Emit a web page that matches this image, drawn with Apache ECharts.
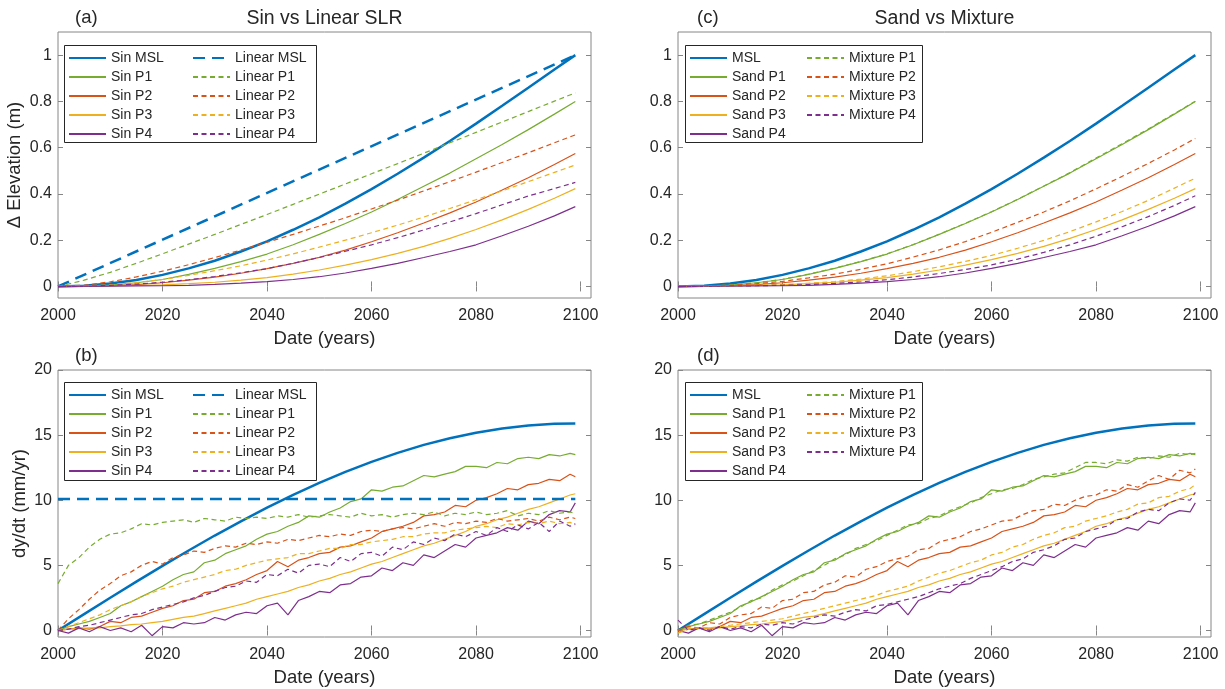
<!DOCTYPE html>
<html>
<head>
<meta charset="utf-8">
<script src="https://cdn.jsdelivr.net/npm/echarts@6/dist/echarts.min.js"></script>
<style>
  html, body { margin: 0; padding: 0; background: #fff; }
  #main { width: 1225px; height: 689px; }
</style>
</head>
<body>
<div id="main"></div>
<script>
// x positions
const yrs5 = [2000, 2005, 2010, 2015, 2020, 2025, 2030, 2035, 2040, 2045, 2050,
  2055, 2060, 2065, 2070, 2075, 2080, 2085, 2090, 2095, 2099];
const yrs2 = [2000, 2002, 2004, 2006, 2008, 2010, 2012, 2014, 2016, 2018,
  2020, 2022, 2024, 2026, 2028, 2030, 2032, 2034, 2036, 2038,
  2040, 2042, 2044, 2046, 2048, 2050, 2052, 2054, 2056, 2058,
  2060, 2062, 2064, 2066, 2068, 2070, 2072, 2074, 2076, 2078,
  2080, 2082, 2084, 2086, 2088, 2090, 2092, 2094, 2096, 2098, 2099];
const yrsEnds = [2000, 2099];

// tick labels
const xTicks = [2000, 2020, 2040, 2060, 2080, 2100];
const elevTicks = [0, 0.2, 0.4, 0.6, 0.8, 1];
const rateTicks = [0, 5, 10, 15, 20];

// elevation (m), panels a and c  (on yrs5)
const mslElev   = [0, 0.003, 0.013, 0.028, 0.05, 0.078, 0.111, 0.151, 0.195, 0.245, 0.299, 0.358, 0.421, 0.487, 0.557, 0.629, 0.704, 0.781, 0.859, 0.938, 1.0];
const sinP1Elev = [0, 0.001, 0.006, 0.016, 0.03, 0.052, 0.078, 0.107, 0.14, 0.18, 0.225, 0.272, 0.322, 0.376, 0.433, 0.49, 0.552, 0.614, 0.678, 0.745, 0.80];
const sinP2Elev = [0, 0.001, 0.003, 0.008, 0.016, 0.027, 0.04, 0.057, 0.077, 0.1, 0.126, 0.157, 0.193, 0.232, 0.274, 0.318, 0.365, 0.417, 0.47, 0.527, 0.575];
const sinP3Elev = [0, 0.0005, 0.002, 0.004, 0.007, 0.012, 0.018, 0.027, 0.038, 0.053, 0.071, 0.092, 0.116, 0.143, 0.173, 0.208, 0.246, 0.288, 0.333, 0.381, 0.423];
const sinP4Elev = [0, 0, 0.001, 0.002, 0.003, 0.005, 0.009, 0.014, 0.021, 0.03, 0.042, 0.058, 0.078, 0.1, 0.125, 0.151, 0.18, 0.219, 0.26, 0.305, 0.345];
const linMslElev = [0, 1.0]; // on yrsEnds
const linP1Elev = [0, 0.027, 0.061, 0.1, 0.141, 0.183, 0.225, 0.268, 0.311, 0.355, 0.399, 0.443, 0.487, 0.531, 0.576, 0.621, 0.666, 0.711, 0.756, 0.801, 0.837];
const linP2Elev = [0, 0.005, 0.02, 0.041, 0.066, 0.094, 0.125, 0.157, 0.191, 0.225, 0.261, 0.297, 0.335, 0.373, 0.413, 0.453, 0.494, 0.536, 0.578, 0.621, 0.655];
const linP3Elev = [0, 0.002, 0.007, 0.017, 0.03, 0.048, 0.068, 0.089, 0.114, 0.141, 0.17, 0.2, 0.232, 0.265, 0.3, 0.337, 0.375, 0.413, 0.453, 0.493, 0.525];
const linP4Elev = [0, 0.001, 0.005, 0.01, 0.018, 0.029, 0.043, 0.059, 0.077, 0.1, 0.125, 0.152, 0.18, 0.211, 0.244, 0.279, 0.315, 0.353, 0.391, 0.423, 0.45];
const mixP1Elev = [0, 0.001, 0.006, 0.016, 0.031, 0.053, 0.079, 0.108, 0.141, 0.181, 0.226, 0.273, 0.323, 0.377, 0.434, 0.492, 0.555, 0.617, 0.681, 0.747, 0.801];
const mixP2Elev = [0, 0.001, 0.005, 0.012, 0.022, 0.037, 0.053, 0.074, 0.098, 0.127, 0.158, 0.194, 0.234, 0.277, 0.322, 0.37, 0.422, 0.476, 0.532, 0.59, 0.64];
const mixP3Elev = [0, 0.0005, 0.002, 0.005, 0.008, 0.014, 0.021, 0.032, 0.046, 0.064, 0.085, 0.108, 0.134, 0.165, 0.199, 0.237, 0.279, 0.324, 0.372, 0.425, 0.468];
const mixP4Elev = [0, 0.001, 0.002, 0.003, 0.005, 0.008, 0.013, 0.02, 0.029, 0.041, 0.056, 0.073, 0.093, 0.118, 0.147, 0.18, 0.217, 0.258, 0.302, 0.35, 0.392];

// rate dy/dt (mm/yr), panels b and d
const mslRate = [0, 1.26, 2.51, 3.75, 4.96, 6.14, 7.29, 8.38, 9.43, 10.41, 11.33, 12.18, 12.95, 13.64, 14.25, 14.76, 15.18, 15.51, 15.74, 15.87, 15.9]; // yrs5
const linMslRate = [10.1, 10.1]; // yrsEnds
// the rest on yrs2
const sinP1Rate = [0.0, 0.3, 0.5, 0.7, 1.0, 1.3, 1.9, 2.2, 2.6, 3.0,
  3.4, 3.9, 4.3, 4.5, 5.2, 5.4, 5.9, 6.2, 6.5, 7.0,
  7.4, 7.6, 8.0, 8.3, 8.8, 8.7, 9.1, 9.4, 9.9, 10.1,
  10.8, 10.7, 11.0, 11.1, 11.5, 11.9, 11.8, 12.0, 12.2, 12.6,
  12.6, 12.5, 12.9, 12.8, 13.2, 13.3, 13.2, 13.5, 13.4, 13.6, 13.5];
const sinP2Rate = [0.0, 0.1, 0.2, 0.1, 0.3, 0.7, 0.6, 1.0, 1.1, 1.4,
  1.7, 1.9, 2.3, 2.4, 2.9, 3.0, 3.4, 3.6, 3.9, 4.3,
  4.6, 5.3, 4.9, 5.4, 5.6, 5.9, 6.0, 6.4, 6.5, 6.8,
  7.1, 7.6, 7.8, 8.0, 8.3, 8.8, 8.9, 9.1, 9.6, 9.5,
  10.0, 10.2, 10.5, 10.9, 10.8, 11.2, 11.3, 11.6, 11.5, 12.0, 11.8];
const sinP3Rate = [0.0, 0.1, 0.15, 0.2, 0.2, 0.3, 0.35, 0.45, 0.5, 0.6,
  0.7, 0.85, 1.0, 1.1, 1.3, 1.5, 1.7, 1.9, 2.1, 2.4,
  2.6, 2.8, 3.0, 3.3, 3.5, 3.8, 4.0, 4.3, 4.5, 4.8,
  5.1, 5.3, 5.6, 5.9, 6.2, 6.5, 6.7, 7.0, 7.3, 7.6,
  8.0, 8.2, 8.5, 8.7, 9.0, 9.3, 9.5, 9.8, 10.1, 10.4, 10.5];
const sinP4Rate = [0.0, -0.2, 0.2, -0.1, 0.3, 0.0, 0.2, -0.1, 0.4, -0.4,
  0.3, 0.2, 0.6, 0.5, 0.6, 1.0, 0.8, 1.2, 1.4, 1.3,
  1.9, 2.1, 1.2, 2.3, 2.6, 3.0, 2.9, 3.5, 3.6, 4.1,
  4.2, 4.8, 4.6, 5.2, 5.0, 5.8, 5.6, 6.1, 6.6, 6.4,
  7.1, 7.3, 7.5, 7.9, 7.7, 8.4, 8.2, 8.9, 9.2, 9.1, 9.8];
const linP1Rate = [3.6, 5.0, 5.6, 6.4, 7.0, 7.4, 7.5, 7.8, 8.2, 8.1,
  8.3, 8.4, 8.5, 8.3, 8.6, 8.5, 8.4, 8.7, 8.6, 8.7,
  8.6, 8.8, 8.7, 8.9, 8.7, 8.8, 8.9, 8.8, 8.7, 9.0,
  8.8, 8.9, 8.7, 8.9, 9.0, 8.9, 9.1, 8.8, 9.0, 8.9,
  9.1, 8.9, 9.0, 9.2, 8.8, 9.0, 8.9, 9.2, 9.0, 9.1, 9.0];
const linP2Rate = [0.0, 0.9, 1.6, 2.4, 3.1, 3.6, 4.2, 4.5, 5.0, 5.3,
  5.1, 5.6, 5.8, 6.1, 6.0, 6.3, 6.5, 6.4, 6.7, 6.6,
  6.8, 6.7, 7.0, 6.9, 7.1, 7.3, 7.2, 7.4, 7.3, 7.6,
  7.7, 7.6, 7.8, 7.9, 7.8, 8.0, 8.2, 8.0, 8.3, 8.2,
  8.4, 8.3, 8.6, 8.4, 8.5, 8.6, 8.4, 8.7, 8.5, 8.7, 8.6];
const linP3Rate = [0.0, 0.3, 0.6, 0.9, 1.2, 1.6, 1.9, 2.2, 2.6, 2.9,
  3.2, 3.4, 3.7, 3.9, 4.1, 4.3, 4.6, 4.7, 5.0, 5.2,
  5.4, 5.5, 5.6, 5.9, 5.9, 6.1, 6.3, 6.3, 6.6, 6.6,
  6.8, 6.9, 7.0, 7.2, 7.2, 7.4, 7.5, 7.5, 7.7, 7.8,
  7.9, 8.0, 7.9, 8.2, 8.1, 8.3, 8.2, 8.4, 8.2, 8.3, 8.1];
const linP4Rate = [0.0, 0.1, 0.3, 0.4, 0.6, 0.8, 1.0, 1.2, 1.3, 1.6,
  1.8, 2.0, 2.2, 2.5, 2.7, 3.0, 3.3, 3.4, 3.8, 3.7,
  4.3, 4.2, 4.7, 4.4, 5.0, 5.1, 4.9, 5.6, 5.3, 5.9,
  6.0, 5.7, 6.4, 6.2, 6.8, 6.6, 7.1, 6.9, 7.4, 7.2,
  7.6, 7.3, 7.9, 7.6, 8.1, 7.8, 8.3, 7.6, 8.4, 8.0, 8.2];
const mixP1Rate = [0.0, 0.4, 0.5, 0.8, 1.1, 1.4, 1.8, 2.3, 2.5, 3.1,
  3.5, 3.8, 4.2, 4.6, 5.0, 5.5, 5.8, 6.3, 6.6, 6.9,
  7.3, 7.7, 8.1, 8.2, 8.6, 8.8, 9.2, 9.5, 9.8, 10.2,
  10.5, 10.8, 10.9, 11.2, 11.6, 11.8, 12.0, 12.1, 12.5, 12.9,
  12.9, 12.8, 13.1, 13.0, 13.3, 13.2, 13.4, 13.3, 13.6, 13.5, 13.6];
const mixP2Rate = [0.0, 0.3, 0.2, 0.6, 0.5, 1.0, 1.2, 1.3, 1.8, 1.7,
  2.3, 2.4, 2.9, 3.0, 3.5, 3.7, 4.2, 4.1, 4.7, 4.9,
  5.3, 5.5, 5.7, 6.2, 6.3, 6.8, 7.0, 7.2, 7.6, 7.8,
  8.1, 8.4, 8.5, 8.9, 9.2, 9.3, 9.7, 9.6, 10.0, 10.3,
  10.4, 10.8, 10.7, 11.2, 11.0, 11.5, 11.9, 11.6, 12.3, 12.1, 12.4];
const mixP3Rate = [-0.2, 0.1, 0.2, 0.2, 0.3, 0.4, 0.5, 0.6, 0.7, 0.8,
  0.9, 1.1, 1.3, 1.5, 1.7, 1.9, 2.1, 2.3, 2.5, 2.7,
  3.0, 3.2, 3.4, 3.8, 4.1, 4.4, 4.6, 4.9, 5.2, 5.4,
  5.8, 6.0, 6.4, 6.6, 7.0, 7.3, 7.5, 7.9, 8.0, 8.4,
  8.6, 8.8, 9.1, 9.3, 9.7, 9.8, 10.2, 10.3, 10.7, 10.9, 11.2];
const mixP4Rate = [0.8, 0.0, 0.2, 0.0, 0.3, 0.1, 0.3, 0.2, 0.5, 0.4,
  0.6, 0.5, 0.8, 1.0, 1.2, 1.1, 1.4, 1.6, 1.5, 1.9,
  2.0, 2.2, 2.4, 2.6, 2.9, 3.2, 3.4, 3.6, 4.0, 4.3,
  4.6, 4.9, 5.3, 5.5, 6.0, 6.2, 6.5, 7.0, 7.1, 7.6,
  7.8, 8.0, 8.5, 8.6, 9.1, 9.3, 9.2, 9.8, 10.1, 10.0, 10.6];

// styles
const FONT = '"Liberation Sans", Arial, Helvetica, sans-serif';
const TEXT = '#262626';
const AXIS = '#868686';
const BLUE = '#0072BD', GREEN = '#77AC30', RED = '#D95319', YELLOW = '#EDB120', PURPLE = '#7E2F8E';
const P_DASH = [5, 3.5];
const MSL_DASH = [12, 7];

function pair(xs, ys) {
    return xs.map((x, i) => [x, ys[i]]);
}

// grid order: a, c, b, d
const grids = [
    { left: 58, top: 32, width: 533, height: 266 },
    { left: 678, top: 32, width: 533, height: 266 },
    { left: 58, top: 370, width: 533, height: 267 },
    { left: 678, top: 370, width: 533, height: 267 }
].map(g => Object.assign(g, { show: true, borderColor: AXIS, borderWidth: 1, backgroundColor: '#fff' }));

let xAxis = [];
let yAxis = [];

function addAxes(g, yMin, yMax, yTicks, yName, yGap) {
    const tick = { inside: true, length: 5, lineStyle: { color: AXIS, width: 1 } };
    const xBase = { type: 'value', gridIndex: g, min: 2000, max: 2102, splitLine: { show: false }, axisLine: { show: false } };
    xAxis.push(Object.assign({}, xBase, {
        position: 'bottom',
        axisTick: Object.assign({ customValues: xTicks }, tick),
        axisLabel: { customValues: xTicks, formatter: v => String(v), margin: 10, fontSize: 16, color: TEXT, fontFamily: FONT },
        name: 'Date (years)', nameLocation: 'middle', nameGap: 31,
        nameTextStyle: { fontSize: 18.5, color: TEXT, fontFamily: FONT }
    }));
    xAxis.push(Object.assign({}, xBase, {
        position: 'top',
        axisTick: Object.assign({ customValues: xTicks }, tick),
        axisLabel: { show: false }
    }));
    const yBase = { type: 'value', gridIndex: g, min: yMin, max: yMax, splitLine: { show: false }, axisLine: { show: false } };
    yAxis.push(Object.assign({}, yBase, {
        position: 'left',
        axisTick: Object.assign({ customValues: yTicks }, tick),
        axisLabel: { customValues: yTicks, formatter: v => String(v), margin: 6, fontSize: 16, color: TEXT, fontFamily: FONT },
        name: yName, nameLocation: 'middle', nameGap: yGap,
        nameTextStyle: { fontSize: 18.5, color: TEXT, fontFamily: FONT }
    }));
    yAxis.push(Object.assign({}, yBase, {
        position: 'right',
        axisTick: Object.assign({ customValues: yTicks }, tick),
        axisLabel: { show: false }
    }));
}

addAxes(0, -0.05, 1.1, elevTicks, '\u0394 Elevation (m)', 34);
addAxes(1, -0.05, 1.1, elevTicks, '', 34);
addAxes(2, -0.5, 20, rateTicks, 'dy/dt (mm/yr)', 29);
addAxes(3, -0.5, 20, rateTicks, '', 29);

let series = [];

function line(g, name, xs, ys, color, width, dash) {
    series.push({
        type: 'line', name: name,
        xAxisIndex: g * 2, yAxisIndex: g * 2,
        data: pair(xs, ys),
        symbol: 'none', showSymbol: false,
        lineStyle: { color: color, width: width, type: dash || 'solid' },
        itemStyle: { color: color },
        emphasis: { disabled: true },
        animation: false
    });
}

// (a) Sin vs Linear SLR
line(0, 'Sin MSL', yrs5, mslElev, BLUE, 2.5);
line(0, 'Sin P1', yrs5, sinP1Elev, GREEN, 1.2);
line(0, 'Sin P2', yrs5, sinP2Elev, RED, 1.2);
line(0, 'Sin P3', yrs5, sinP3Elev, YELLOW, 1.2);
line(0, 'Sin P4', yrs5, sinP4Elev, PURPLE, 1.2);
line(0, 'Linear MSL', yrsEnds, linMslElev, BLUE, 2.5, MSL_DASH);
line(0, 'Linear P1', yrs5, linP1Elev, GREEN, 1.2, P_DASH);
line(0, 'Linear P2', yrs5, linP2Elev, RED, 1.2, P_DASH);
line(0, 'Linear P3', yrs5, linP3Elev, YELLOW, 1.2, P_DASH);
line(0, 'Linear P4', yrs5, linP4Elev, PURPLE, 1.2, P_DASH);

// (c) Sand vs Mixture
line(1, 'MSL', yrs5, mslElev, BLUE, 2.5);
line(1, 'Sand P1', yrs5, sinP1Elev, GREEN, 1.2);
line(1, 'Sand P2', yrs5, sinP2Elev, RED, 1.2);
line(1, 'Sand P3', yrs5, sinP3Elev, YELLOW, 1.2);
line(1, 'Sand P4', yrs5, sinP4Elev, PURPLE, 1.2);
line(1, 'Mixture P1', yrs5, mixP1Elev, GREEN, 1.2, P_DASH);
line(1, 'Mixture P2', yrs5, mixP2Elev, RED, 1.2, P_DASH);
line(1, 'Mixture P3', yrs5, mixP3Elev, YELLOW, 1.2, P_DASH);
line(1, 'Mixture P4', yrs5, mixP4Elev, PURPLE, 1.2, P_DASH);

// (b) rates, sin vs linear
line(2, 'Sin MSL', yrs5, mslRate, BLUE, 2.5);
line(2, 'Sin P1', yrs2, sinP1Rate, GREEN, 1.2);
line(2, 'Sin P2', yrs2, sinP2Rate, RED, 1.2);
line(2, 'Sin P3', yrs2, sinP3Rate, YELLOW, 1.2);
line(2, 'Sin P4', yrs2, sinP4Rate, PURPLE, 1.2);
line(2, 'Linear MSL', yrsEnds, linMslRate, BLUE, 2.5, MSL_DASH);
line(2, 'Linear P1', yrs2, linP1Rate, GREEN, 1.2, P_DASH);
line(2, 'Linear P2', yrs2, linP2Rate, RED, 1.2, P_DASH);
line(2, 'Linear P3', yrs2, linP3Rate, YELLOW, 1.2, P_DASH);
line(2, 'Linear P4', yrs2, linP4Rate, PURPLE, 1.2, P_DASH);

// (d) rates, sand vs mixture
line(3, 'MSL', yrs5, mslRate, BLUE, 2.5);
line(3, 'Sand P1', yrs2, sinP1Rate, GREEN, 1.2);
line(3, 'Sand P2', yrs2, sinP2Rate, RED, 1.2);
line(3, 'Sand P3', yrs2, sinP3Rate, YELLOW, 1.2);
line(3, 'Sand P4', yrs2, sinP4Rate, PURPLE, 1.2);
line(3, 'Mixture P1', yrs2, mixP1Rate, GREEN, 1.2, P_DASH);
line(3, 'Mixture P2', yrs2, mixP2Rate, RED, 1.2, P_DASH);
line(3, 'Mixture P3', yrs2, mixP3Rate, YELLOW, 1.2, P_DASH);
line(3, 'Mixture P4', yrs2, mixP4Rate, PURPLE, 1.2, P_DASH);

const sinCol1 = ['Sin MSL', 'Sin P1', 'Sin P2', 'Sin P3', 'Sin P4'];
const sinCol2 = ['Linear MSL', 'Linear P1', 'Linear P2', 'Linear P3', 'Linear P4'];
const sandCol1 = ['MSL', 'Sand P1', 'Sand P2', 'Sand P3', 'Sand P4'];
const sandCol2 = ['Mixture P1', 'Mixture P2', 'Mixture P3', 'Mixture P4'];

// one legend per column, the box around both is a graphic rect
function legend(names, left, top) {
    return {
        data: names, orient: 'vertical', left: left, top: top,
        itemWidth: 37, itemHeight: 14, itemGap: 5, padding: 0, z: 6,
        selectedMode: false,
        itemStyle: { opacity: 0 },
        textStyle: { fontSize: 14, color: TEXT, fontFamily: FONT }
    };
}

function box(x, y, w, h) {
    return {
        type: 'rect', z: 5, shape: { x: x, y: y, width: w, height: h },
        style: { fill: '#fff', stroke: TEXT, lineWidth: 1 }
    };
}

function label(text, x, y, size, align) {
    return {
        type: 'text', x: x, y: y, z: 10,
        style: { text: text, fill: TEXT, font: size + 'px ' + FONT, textAlign: align, textVerticalAlign: 'middle' }
    };
}

const option = {
    animation: false,
    grid: grids,
    xAxis: xAxis,
    yAxis: yAxis,
    legend: [
        legend(sinCol1, 68, 51), legend(sinCol2, 192, 51),
        legend(sandCol1, 689, 51), legend(sandCol2, 806, 51),
        legend(sinCol1, 68, 388), legend(sinCol2, 192, 388),
        legend(sandCol1, 689, 388), legend(sandCol2, 806, 388)
    ],
    graphic: [
        box(64.5, 45.5, 252, 97),
        box(685.5, 45.5, 237, 97),
        box(64.5, 382.5, 252, 98),
        box(685.5, 382.5, 237, 98),
        label('(a)', 75, 18, 18.5, 'left'),
        label('(c)', 697, 18, 18.5, 'left'),
        label('(b)', 75, 356, 18.5, 'left'),
        label('(d)', 697, 356, 18.5, 'left'),
        label('Sin vs Linear SLR', 324.5, 19, 19.5, 'center'),
        label('Sand vs Mixture', 944.5, 19, 19.5, 'center')
    ],
    series: series
};

let plot = echarts.init(document.querySelector('#main'));
plot.setOption(option);
</script>
</body>
</html>
